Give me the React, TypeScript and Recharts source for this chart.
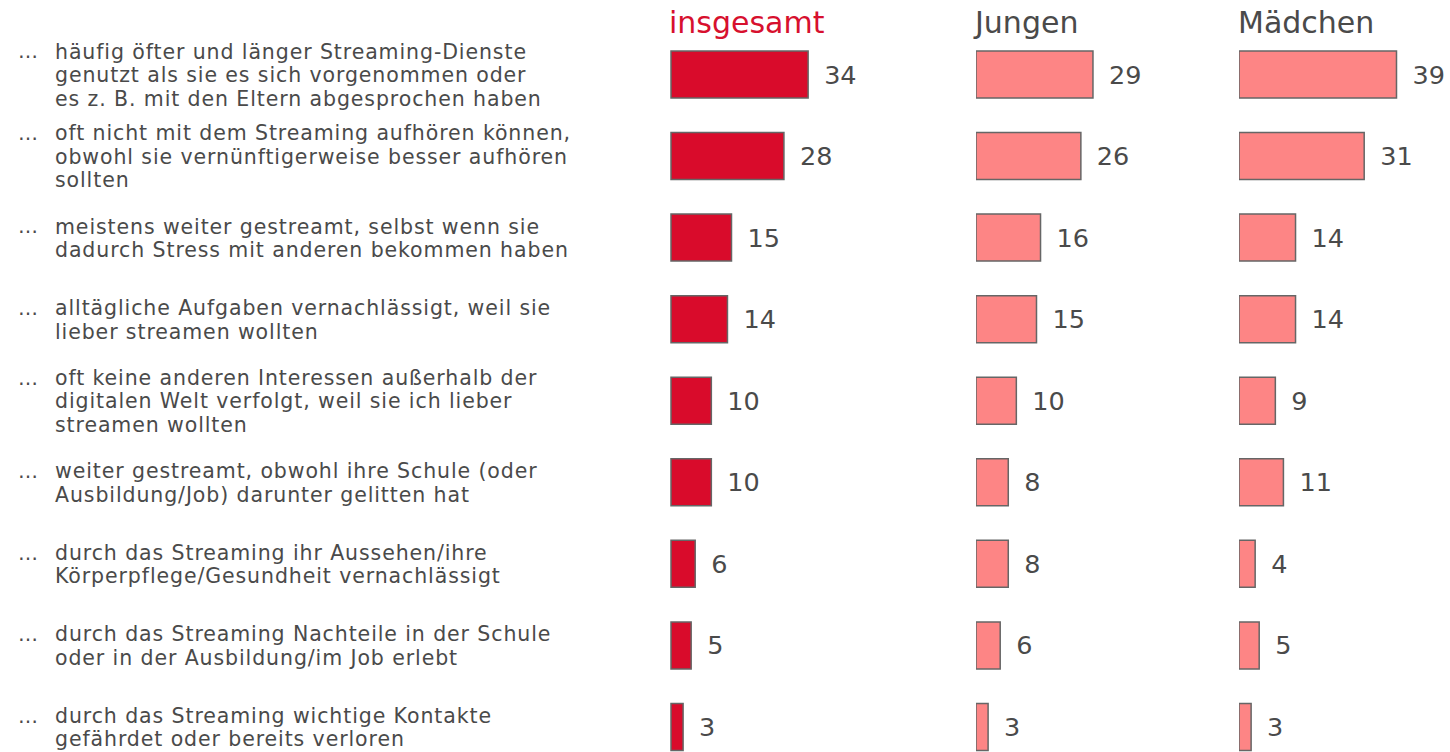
import { BarChart, Bar, XAxis, YAxis, LabelList } from "recharts";

const ITEMS: string[][] = [
    ["häufig öfter und länger Streaming-Dienste", "genutzt als sie es sich vorgenommen oder", "es z. B. mit den Eltern abgesprochen haben"],
    ["oft nicht mit dem Streaming aufhören können,", "obwohl sie vernünftigerweise besser aufhören", "sollten"],
    ["meistens weiter gestreamt, selbst wenn sie", "dadurch Stress mit anderen bekommen haben"],
    ["alltägliche Aufgaben vernachlässigt, weil sie", "lieber streamen wollten"],
    ["oft keine anderen Interessen außerhalb der", "digitalen Welt verfolgt, weil sie ich lieber", "streamen wollten"],
    ["weiter gestreamt, obwohl ihre Schule (oder", "Ausbildung/Job) darunter gelitten hat"],
    ["durch das Streaming ihr Aussehen/ihre", "Körperpflege/Gesundheit vernachlässigt"],
    ["durch das Streaming Nachteile in der Schule", "oder in der Ausbildung/im Job erlebt"],
    ["durch das Streaming wichtige Kontakte", "gefährdet oder bereits verloren"],
];

const TOTAL = [34, 28, 15, 14, 10, 10, 6, 5, 3];
const BOYS = [29, 26, 16, 15, 10, 8, 8, 6, 3];
const GIRLS = [39, 31, 14, 14, 9, 11, 4, 5, 3];

const FONT = "'DejaVu Sans', Verdana, sans-serif";
const TEXT = "#4a4a4a";

const data = ITEMS.map((_, i) => ({
    key: String(i),
    total: TOTAL[i],
    boys: BOYS[i],
    girls: GIRLS[i],
}));

const CHART_H = 768;
const MARGIN = { top: 34, right: 0, bottom: 0, left: 0 };

const ItemTick = ({ y, payload }: { y?: number; payload?: { value: string } }) => {
    const lines = ITEMS[Number(payload?.value ?? 0)];
    const lh = 23.5;
    const y0 = (y ?? 0) - ((lines.length - 1) * lh) / 2;
    return (
        <g>
            <text x={18} y={y0} dy="0.36em" fill={TEXT} fontSize={20} fontFamily={FONT}>…</text>
            {lines.map((l, i) => (
                <text key={i} x={55} y={y0 + i * lh} dy="0.36em" fill={TEXT} fontSize={20.5} letterSpacing={0.9} fontFamily={FONT}>
                    {l}
                </text>
            ))}
        </g>
    );
};

function Panel({ dataKey, fill, width, max, withLabels }: {
    dataKey: string; fill: string; width: number; max: number; withLabels?: boolean;
}) {
    return (
        <BarChart width={width} height={CHART_H} data={data} layout="vertical" margin={MARGIN}>
            <XAxis type="number" domain={[0, max]} hide />
            <YAxis
                type="category"
                dataKey="key"
                width={withLabels ? 671 : 0}
                hide={!withLabels}
                axisLine={false}
                tickLine={false}
                tick={<ItemTick />}
            />
            <Bar dataKey={dataKey} fill={fill} stroke="#666" strokeWidth={1.5} barSize={47} isAnimationActive={false}>
                <LabelList dataKey={dataKey} position="right" offset={16} fill={TEXT} fontSize={25.5} fontFamily={FONT} />
            </Bar>
        </BarChart>
    );
}

const headStyle = (left: number, color: string): React.CSSProperties => ({
    position: "absolute",
    left,
    top: 5,
    fontSize: 30,
    fontFamily: FONT,
    color,
    lineHeight: "36px",
});

export default function App() {
    return (
        <div style={{ position: "absolute", left: 0, top: 0, width: 1450, height: 752, overflow: "hidden", background: "#fff" }}>
            <div style={headStyle(669, "#d7102e")}>insgesamt</div>
            <div style={headStyle(975, TEXT)}>Jungen</div>
            <div style={headStyle(1238, TEXT)}>Mädchen</div>
            <div style={{ position: "absolute", left: 0, top: 0 }}>
                <Panel dataKey="total" fill="#d90b2b" width={671 + 242} max={60} withLabels />
            </div>
            <div style={{ position: "absolute", left: 976, top: 0 }}>
                <Panel dataKey="boys" fill="#fd8585" width={242} max={60} />
            </div>
            <div style={{ position: "absolute", left: 1239, top: 0 }}>
                <Panel dataKey="girls" fill="#fd8585" width={210} max={52} />
            </div>
        </div>
    );
}
